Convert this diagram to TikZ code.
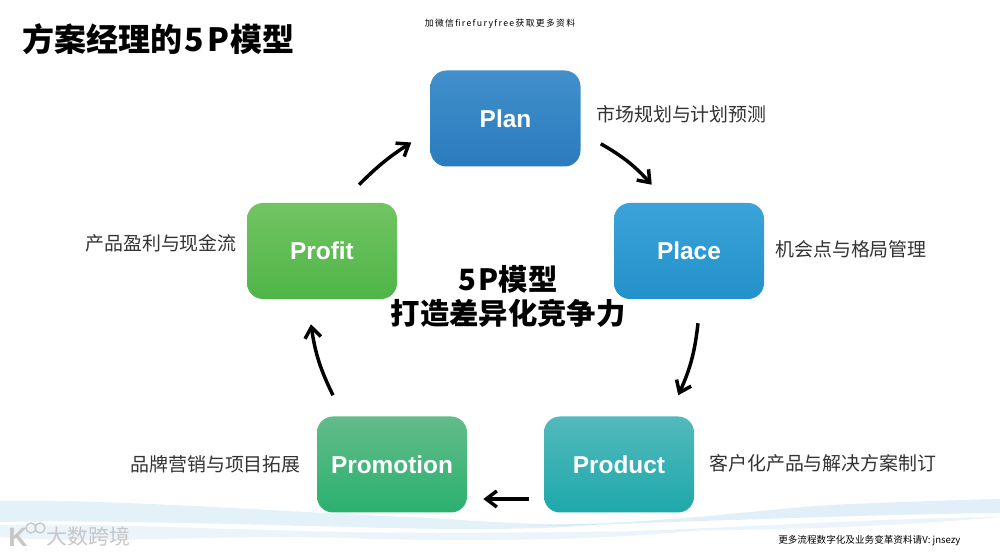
\documentclass[tikz,border=0pt]{standalone}
\usepackage{fontspec}
\setmainfont{Noto Sans CJK SC}
\newfontfamily\latinfont{Liberation Sans}
\newfontfamily\spacedfont[LetterSpace=15]{Noto Sans CJK SC}
\usetikzlibrary{arrows.meta, calc}
\definecolor{planhi}{HTML}{428FCB}
\definecolor{planlo}{HTML}{2A7CBE}
\definecolor{placehi}{HTML}{3BA3D8}
\definecolor{placelo}{HTML}{2391CB}
\definecolor{producthi}{HTML}{52BABC}
\definecolor{productlo}{HTML}{1EA8AA}
\definecolor{promohi}{HTML}{62BC8A}
\definecolor{promolo}{HTML}{2BB06F}
\definecolor{profithi}{HTML}{72C462}
\definecolor{profitlo}{HTML}{4FB548}
\definecolor{wave}{HTML}{BBDCF0}

\begin{document}
\begin{tikzpicture}[
    x=0.75pt, y=-0.75pt,
    pbox/.style={rounded corners=12pt, minimum width=112.5pt, minimum height=72pt,
                 inner sep=0pt, text=white, font=\latinfont\bfseries\fontsize{18.3}{22}\selectfont},
    flow/.style={-{Straight Barb[length=8pt,width=12pt,line width=2.6pt]}, line width=2.6pt, black},
    note/.style={font=\fontsize{14.2}{16}\selectfont, text=black!80, inner sep=0pt, anchor=west},
    tiny/.style={font=\fontsize{7.2}{8}\selectfont, inner sep=0pt, anchor=west},
  ]
  \useasboundingbox (0,0) rectangle (1000,555);
  \fill[white] (0,0) rectangle (1000,555);
  % Wave
  \fill[wave, opacity=0.4] (0,501) .. controls (120,499) and (280,512) .. (430,518)
    .. controls (480,521) and (520,525) .. (600,524)
    .. controls (560,530) and (450,530) .. (350,527)
    .. controls (230,524) and (100,520) .. (0,522) -- cycle;
  \fill[wave, opacity=0.3] (0,525) .. controls (100,523) and (230,530) .. (350,532)
    .. controls (450,534) and (600,532) .. (700,530)
    .. controls (600,541) and (450,542) .. (350,538)
    .. controls (200,534) and (100,545) .. (0,537) -- cycle;
  \fill[wave, opacity=0.45] (520,526) .. controls (700,522) and (760,508) .. (850,504)
    .. controls (900,502) and (960,500) .. (1000,499) -- (1000,513)
    .. controls (900,514) and (800,518) .. (700,521)
    .. controls (620,524) and (570,526) .. (520,526) -- cycle;
  \fill[wave, opacity=0.3] (640,531) .. controls (800,524) and (900,518) .. (1000,517)
    .. controls (900,526) and (800,530) .. (640,531) -- cycle;
  % Titles
  \node[font=\bfseries\fontsize{24}{28}\selectfont, inner sep=0pt, anchor=west] (title) at (22,39) {方案经理的\kern2pt 5\kern2pt P\kern1pt 模型};
  \node[font=\spacedfont\fontsize{6.6}{8}\selectfont, inner sep=0pt] (wechat) at (500,24) {加微信firefuryfree获取更多资料};
  \node[font=\bfseries\fontsize{22}{25.5}\selectfont, align=center, inner sep=0pt] (centre) at (508,296) {5\kern2pt P模型\\打造差异化竞争力};
  % Boxes
  \node[pbox, top color=planhi, bottom color=planlo] (plan) at (505.5,118.5) {Plan};
  \node[pbox, top color=placehi, bottom color=placelo] (place) at (689,251) {Place};
  \node[pbox, top color=producthi, bottom color=productlo] (product) at (619,464.5) {Product};
  \node[pbox, top color=promohi, bottom color=promolo] (promotion) at (392,464.5) {Promotion};
  \node[pbox, top color=profithi, bottom color=profitlo] (profit) at (322,251) {Profit};
  % Notes
  \node[note] (plannote) at (596,114) {市场规划与计划预测};
  \node[note] (placenote) at (775,249) {机会点与格局管理};
  \node[note] (productnote) at (709,463) {客户化产品与解决方案制订};
  \node[note, anchor=east] (promonote) at (301,464) {品牌营销与项目拓展};
  \node[note, anchor=east] (profitnote) at (237,243) {产品盈利与现金流};
  % Footer
  \node[tiny] (footer) at (778,541) {更多流程数字化及业务变革资料请V: jnsezy};
  \node[font=\fontsize{15.7}{18}\selectfont, text=black!22, inner sep=0pt, anchor=west] (brand) at (46,537) {大数跨境};
  \node[font=\latinfont\bfseries\fontsize{20}{20}\selectfont, text=black!22, inner sep=0pt, anchor=west] (logo) at (8,537) {K};
  \draw[black!22, line width=1pt] (31,528) circle (5) (40,528) circle (5);
  % Arrows
  \draw[flow] ($(plan.south east)+(20,-23)$) to[bend left=9] ($(place.north west)+(38,-18)$);
  \draw[flow] ($(place.south)+(9,24)$) to[bend left=9] ($(product.north east)+(-16,-21)$);
  \draw[flow] ($(product.west)+(-15,34.5)$) -- ($(promotion.east)+(16,34.5)$);
  \draw[flow] ($(promotion.north)+(-59,-21)$) to[bend left=9] ($(profit.south)+(-11,25)$);
  \draw[flow] ($(profit.north)+(37,-18)$) to[bend left=6] ($(plan.west)+(-19,24)$);
\end{tikzpicture}
\end{document}
